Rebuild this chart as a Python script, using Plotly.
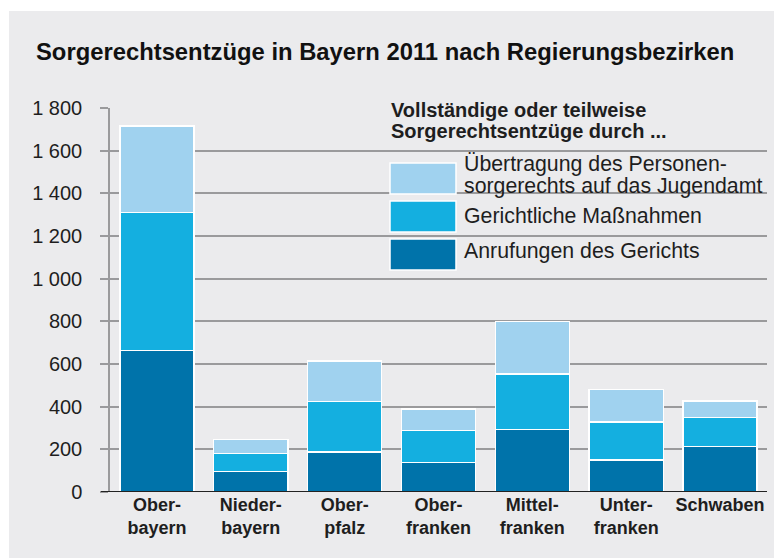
import plotly.graph_objects as go

# ---- data ----
categories = ["Ober-<br>bayern", "Nieder-<br>bayern", "Ober-<br>pfalz", "Ober-<br>franken",
              "Mittel-<br>franken", "Unter-<br>franken", "Schwaben"]
anrufungen = [664, 97, 188, 139, 294, 149, 214]
gerichtliche = [646, 83, 236, 150, 259, 179, 135]
uebertragung = [406, 67, 189, 100, 246, 152, 78]
series_names = ["Übertragung des Personen-<br>sorgerechts auf das Jugendamt",
                "Gerichtliche Maßnahmen", "Anrufungen des Gerichts"]
y_ticks = [0, 200, 400, 600, 800, 1000, 1200, 1400, 1600, 1800]
title_text = "Sorgerechtsentzüge in Bayern 2011 nach Regierungsbezirken"
legend_title = ["Vollständige oder teilweise", "Sorgerechtsentzüge durch ..."]

# ---- style ----
C_DARK = "#0073AA"
C_MID = "#14AFE0"
C_LIGHT = "#A0D2EF"
BG = "#EBEBED"
GRID = "#9A9A9C"
TXT = "#1E1E1E"
FONT = "Liberation Sans, Arial, Helvetica, sans-serif"

OFF = 8  # page body margin
W, H = 782, 558
# plot area in page pixels
PX0, PX1, PY0, PY1 = 110, 767, 108, 492
L, T = PX0 - OFF, PY0 - OFF
R, B = W - (PX1 - OFF), H - (PY1 - OFF)
PW = PX1 - PX0
PH = PY1 - PY0


def px_x(px):
    return (px - PX0) / PW


def px_y(py):
    return (PY1 - py) / PH


fig = go.Figure()
for vals, col in [(anrufungen, C_DARK), (gerichtliche, C_MID), (uebertragung, C_LIGHT)]:
    fig.add_trace(go.Bar(x=categories, y=vals, marker=dict(color=col, line=dict(color="white", width=1.5)),
                         showlegend=False, hoverinfo="skip"))

shapes = []
# panel background
shapes.append(dict(type="rect", xref="paper", yref="paper", x0=px_x(9), x1=px_x(W + 20),
                   y0=px_y(H + 20), y1=px_y(11), fillcolor=BG, line=dict(width=0), layer="below"))
# cover gridlines behind legend
shapes.append(dict(type="rect", xref="paper", yref="y", x0=px_x(366), x1=px_x(W + 20),
                   y0=1100, y1=1850, fillcolor=BG, line=dict(width=0), layer="between"))
# bottom axis line
shapes.append(dict(type="line", xref="paper", yref="y", x0=px_x(101), x1=px_x(767), y0=0, y1=0,
                   line=dict(color="#222222", width=2), layer="above"))

# custom legend swatches
swatch_cols = [C_LIGHT, C_MID, C_DARK]
swatch_tops = [163, 201, 239]
for col, top in zip(swatch_cols, swatch_tops):
    shapes.append(dict(type="rect", xref="paper", yref="paper", x0=px_x(390), x1=px_x(456),
                       y0=px_y(top + 31), y1=px_y(top), fillcolor=col,
                       line=dict(color="white", width=1.5), layer="above"))

annotations = []
annotations.append(dict(text=f"<b>{title_text}</b>", xref="paper", yref="paper", x=px_x(34), y=px_y(51),
                        xanchor="left", yanchor="middle", showarrow=False,
                        font=dict(size=23.8, color="#111111", family=FONT)))
for i, line in enumerate(legend_title):
    annotations.append(dict(text=f"<b>{line}</b>", xref="paper", yref="paper", x=px_x(389),
                            y=px_y(110 + 21 * i), xanchor="left", yanchor="middle", showarrow=False,
                            font=dict(size=20, color=TXT, family=FONT)))
entry_centers = [[164, 186], [216], [251]]
for name, centers in zip(series_names, entry_centers):
    for line, cy in zip(name.split("<br>"), centers):
        annotations.append(dict(text=line, xref="paper", yref="paper", x=px_x(462), y=px_y(cy),
                                xanchor="left", yanchor="middle", showarrow=False,
                                font=dict(size=21.3, color=TXT, family=FONT)))

fig.update_layout(
    width=W, height=H,
    margin=dict(l=L, r=R, t=T, b=B, pad=0),
    barmode="stack", bargap=0.21,
    paper_bgcolor="white", plot_bgcolor=BG,
    separators=", ",
    font=dict(family=FONT, color=TXT),
    shapes=shapes, annotations=annotations,
    xaxis=dict(showgrid=False, showline=False, ticks="", zeroline=False,
               tickfont=dict(size=18, color=TXT, family=FONT), ticklabelstandoff=0,
               tickprefix="<b>", ticksuffix="</b>"),
    yaxis=dict(range=[0, 1800], tickvals=y_ticks, tickformat=",d", showgrid=True, gridcolor=GRID,
               gridwidth=1.5, showline=True, linecolor=GRID, linewidth=1.5, ticks="outside",
               ticklen=8, tickwidth=1.5, tickcolor=GRID, zeroline=False,
               tickfont=dict(size=20, color=TXT, family=FONT), ticklabelstandoff=14),
)

fig.write_html("out.html")
